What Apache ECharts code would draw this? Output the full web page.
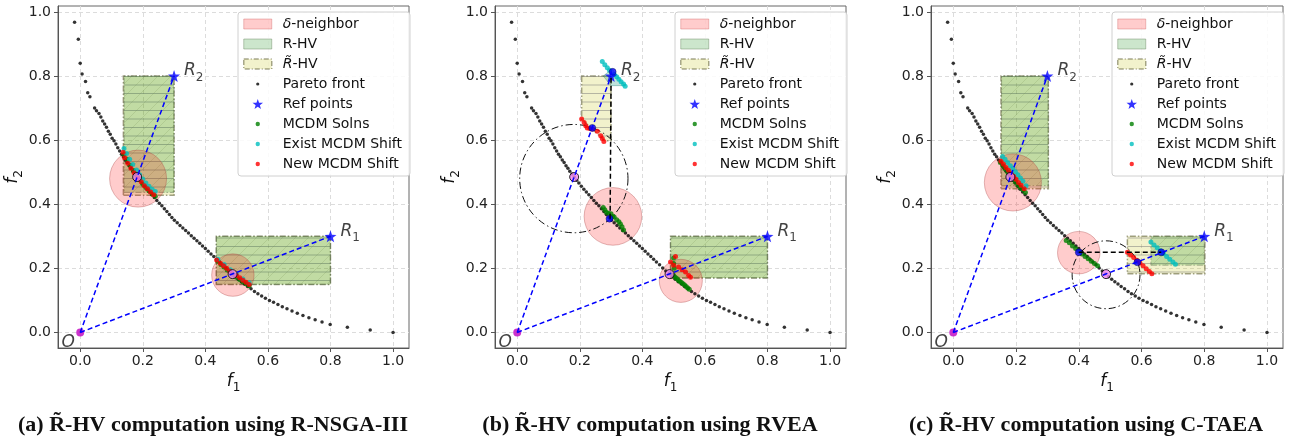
<!DOCTYPE html>
<html>
<head>
<meta charset="utf-8">
<script src="https://cdn.jsdelivr.net/npm/echarts@6/dist/echarts.min.js"></script>
<style>
  html, body { margin: 0; padding: 0; background: #fff; }
  #chart { width: 1294px; height: 440px; }
</style>
</head>
<body>
<div id="chart"></div>
<script>
// ---- data ----
const xTicks = [0, 0.2, 0.4, 0.6, 0.8, 1.0];
const yTicks = [0, 0.2, 0.4, 0.6, 0.8, 1.0];
const panelTitles = [
  '(a) R\u0303-HV computation using R-NSGA-III',
  '(b) R\u0303-HV computation using RVEA',
  '(c) R\u0303-HV computation using C-TAEA'
];

const paretoFront = [
  [-0.018, 0.968], [-0.006, 0.915], [0.0, 0.840], [0.006, 0.806], [0.017, 0.783], [0.024, 0.748],
  [0.031, 0.735], [0.046, 0.700], [0.052, 0.692], [0.060, 0.683], [0.066, 0.672], [0.072, 0.660],
  [0.078, 0.650], [0.084, 0.640], [0.090, 0.628], [0.096, 0.618], [0.102, 0.606], [0.108, 0.598],
  [0.114, 0.588], [0.120, 0.576], [0.126, 0.566], [0.132, 0.556], [0.138, 0.548], [0.144, 0.538],
  [0.150, 0.530], [0.156, 0.520], [0.162, 0.512], [0.168, 0.503], [0.175, 0.494], [0.182, 0.485],
  [0.190, 0.475], [0.197, 0.466], [0.205, 0.456], [0.213, 0.447], [0.221, 0.438], [0.229, 0.430],
  [0.237, 0.421], [0.245, 0.412], [0.253, 0.403], [0.261, 0.395], [0.269, 0.386], [0.277, 0.377],
  [0.285, 0.368], [0.293, 0.359], [0.301, 0.350], [0.310, 0.342], [0.319, 0.334], [0.328, 0.326],
  [0.337, 0.318], [0.346, 0.310], [0.355, 0.302], [0.364, 0.294], [0.373, 0.286], [0.382, 0.278],
  [0.391, 0.270], [0.400, 0.262], [0.409, 0.253], [0.418, 0.245], [0.427, 0.237], [0.436, 0.228],
  [0.445, 0.220], [0.455, 0.211], [0.465, 0.201], [0.475, 0.192], [0.485, 0.182], [0.495, 0.174],
  [0.505, 0.166], [0.515, 0.158], [0.525, 0.151], [0.535, 0.143], [0.546, 0.136], [0.557, 0.128],
  [0.568, 0.121], [0.580, 0.114], [0.592, 0.107], [0.605, 0.100], [0.618, 0.094], [0.632, 0.087],
  [0.646, 0.080], [0.661, 0.074], [0.677, 0.067], [0.694, 0.060], [0.712, 0.053], [0.731, 0.046],
  [0.751, 0.040], [0.773, 0.033], [0.799, 0.025], [0.854, 0.016], [0.927, 0.008], [1.000, 0.000]
];

const origin = [0, 0];
const refPoints = [[0.8, 0.3], [0.3, 0.8]];
const refIndex = ['1', '2'];
const projections = [[0.182, 0.485], [0.487, 0.182]];

// (a) R-NSGA-III
const deltaA = [[0.185, 0.48, 0.09], [0.488, 0.179, 0.067]];
const rhvA = [
  [[0.14, 0.437], [0.3, 0.437], [0.3, 0.8], [0.14, 0.8]],
  [[0.435, 0.15], [0.8, 0.15], [0.8, 0.3], [0.435, 0.3]]
];
const rhvTildeA = [
  [[0.138, 0.428], [0.3, 0.428], [0.3, 0.8], [0.138, 0.8]],
  [[0.435, 0.15], [0.8, 0.15], [0.8, 0.3], [0.435, 0.3]]
];
const mcdmA = [
  [0.14, 0.555], [0.15, 0.54], [0.16, 0.522], [0.17, 0.505], [0.18, 0.49], [0.19, 0.477],
  [0.2, 0.462], [0.21, 0.452], [0.22, 0.442], [0.23, 0.432], [0.24, 0.425],
  [0.44, 0.222], [0.45, 0.212], [0.46, 0.204], [0.47, 0.195], [0.48, 0.187], [0.49, 0.18],
  [0.5, 0.172], [0.51, 0.165], [0.52, 0.158], [0.53, 0.152], [0.54, 0.146]
];
const existA = [
  [0.14, 0.574], [0.148, 0.558], [0.158, 0.54], [0.168, 0.524], [0.18, 0.507], [0.19, 0.492],
  [0.2, 0.479], [0.21, 0.466], [0.22, 0.456], [0.23, 0.447], [0.24, 0.44],
  [0.44, 0.228], [0.46, 0.212], [0.48, 0.196], [0.5, 0.181], [0.52, 0.167], [0.54, 0.155]
];
const newA = [
  [0.137, 0.562], [0.142, 0.545], [0.152, 0.528], [0.162, 0.512], [0.172, 0.498], [0.185, 0.482],
  [0.195, 0.47], [0.205, 0.458], [0.215, 0.448], [0.225, 0.438], [0.235, 0.43],
  [0.436, 0.226], [0.448, 0.216], [0.458, 0.208], [0.468, 0.2], [0.478, 0.192], [0.5, 0.178],
  [0.51, 0.171], [0.52, 0.163], [0.53, 0.157], [0.54, 0.15]
];

// (b) RVEA
const deltaB = [[0.306, 0.362, 0.091], [0.523, 0.161, 0.068]];
const searchB = [[0.181, 0.48, 0.171]];
const rhvB = [
  [[0.49, 0.17], [0.8, 0.17], [0.8, 0.3], [0.49, 0.3]]
];
const rhvTildeB = [
  [[0.206, 0.8], [0.206, 0.665], [0.28, 0.598], [0.3, 0.598], [0.3, 0.8]],
  [[0.49, 0.17], [0.8, 0.17], [0.8, 0.3], [0.49, 0.3]]
];
const shiftBoxB = [
  [[0.275, 0.8], [0.303, 0.822], [0.345, 0.77], [0.3, 0.77]]
];
const mcdmB = [
  [0.275, 0.39], [0.28, 0.383], [0.285, 0.375], [0.292, 0.372], [0.3, 0.37], [0.305, 0.362],
  [0.31, 0.36], [0.318, 0.352], [0.325, 0.345], [0.33, 0.338], [0.335, 0.33], [0.34, 0.32],
  [0.5, 0.232], [0.5, 0.215], [0.502, 0.2], [0.49, 0.185], [0.5, 0.178], [0.505, 0.172],
  [0.51, 0.168], [0.515, 0.163], [0.52, 0.16], [0.525, 0.156], [0.53, 0.152], [0.535, 0.148],
  [0.54, 0.143], [0.545, 0.139], [0.55, 0.135]
];
const existB = [
  [0.272, 0.845], [0.28, 0.835], [0.288, 0.826], [0.295, 0.818], [0.31, 0.805], [0.318, 0.798],
  [0.325, 0.79], [0.332, 0.782], [0.34, 0.775], [0.345, 0.768]
];
const newB = [
  [0.206, 0.666], [0.214, 0.655], [0.219, 0.645], [0.224, 0.638], [0.232, 0.636], [0.24, 0.635],
  [0.256, 0.628], [0.267, 0.614], [0.272, 0.605], [0.277, 0.596],
  [0.506, 0.237], [0.49, 0.22], [0.5, 0.21], [0.516, 0.204], [0.527, 0.196], [0.538, 0.189],
  [0.548, 0.178], [0.554, 0.172]
];
const shiftedB = [[0.295, 0.355], [0.24, 0.638], [0.305, 0.813]];
const shiftLineB = [[0.297, 0.355], [0.3, 0.8]];

// (c) C-TAEA
const deltaC = [[0.19, 0.468, 0.09], [0.4, 0.249, 0.067]];
const searchC = [[0.487, 0.18, 0.107]];
const rhvC = [
  [[0.154, 0.458], [0.303, 0.458], [0.303, 0.8], [0.154, 0.8]],
  [[0.63, 0.21], [0.8, 0.21], [0.8, 0.3], [0.63, 0.3]]
];
const rhvTildeC = [
  [[0.152, 0.448], [0.303, 0.448], [0.303, 0.8], [0.152, 0.8]],
  [[0.555, 0.183], [0.802, 0.183], [0.802, 0.3], [0.555, 0.3]]
];
const mcdmC = [
  [0.15, 0.53], [0.158, 0.52], [0.166, 0.51], [0.174, 0.5], [0.182, 0.49], [0.19, 0.48],
  [0.198, 0.47], [0.206, 0.46], [0.214, 0.452], [0.222, 0.445], [0.23, 0.437],
  [0.36, 0.287], [0.37, 0.28], [0.38, 0.27], [0.39, 0.262], [0.4, 0.253], [0.41, 0.245],
  [0.42, 0.237], [0.43, 0.23], [0.44, 0.222], [0.45, 0.215], [0.46, 0.208]
];
const existC = [
  [0.157, 0.549], [0.165, 0.54], [0.173, 0.53], [0.182, 0.52], [0.19, 0.511], [0.198, 0.501],
  [0.206, 0.492], [0.214, 0.482], [0.222, 0.472], [0.232, 0.458],
  [0.63, 0.282], [0.64, 0.273], [0.65, 0.264], [0.66, 0.255], [0.67, 0.246], [0.68, 0.237],
  [0.69, 0.228], [0.7, 0.22], [0.708, 0.213]
];
const newC = [
  [0.152, 0.534], [0.16, 0.525], [0.168, 0.515], [0.176, 0.506], [0.184, 0.496], [0.192, 0.487],
  [0.2, 0.478], [0.208, 0.468], [0.216, 0.459], [0.226, 0.448],
  [0.555, 0.25], [0.565, 0.242], [0.575, 0.234], [0.585, 0.225], [0.595, 0.217], [0.605, 0.208],
  [0.615, 0.199], [0.625, 0.19], [0.633, 0.183]
];
const shiftedC = [[0.4, 0.25], [0.587, 0.219], [0.663, 0.25]];
const shiftLineC = [[0.4, 0.25], [0.663, 0.25]];

// ---- layout ----
const gridLeft = [58, 495, 931];
const gridWidth = [351, 351, 352];
const legendLeft = [238, 675, 1112];
const titleCenter = [208, 645, 1081];

const panels = [
  { delta: deltaA, search: [], rhv: rhvA, rhvTilde: rhvTildeA, shiftBox: [], mcdm: mcdmA, exist: existA, fresh: newA, shifted: [], shiftLine: [] },
  { delta: deltaB, search: searchB, rhv: rhvB, rhvTilde: rhvTildeB, shiftBox: shiftBoxB, mcdm: mcdmB, exist: existB, fresh: newB, shifted: shiftedB, shiftLine: shiftLineB },
  { delta: deltaC, search: searchC, rhv: rhvC, rhvTilde: rhvTildeC, shiftBox: [], mcdm: mcdmC, exist: existC, fresh: newC, shifted: shiftedC, shiftLine: shiftLineC }
];

const star = 'path://M0,-10L2.35,-3.24L9.51,-3.09L3.8,1.24L5.88,8.09L0,4.1L-5.88,8.09L-3.8,1.24L-9.51,-3.09L-2.35,-3.24Z';
const dot = r => 'path://M0,0M10,10M' + (5 - r) + ',5a' + r + ',' + r + ' 0 1,0 ' + (2 * r) + ',0a' + r + ',' + r + ' 0 1,0 ' + (-2 * r) + ',0Z';

const mathRich = {
  i: { fontStyle: 'italic', fontSize: 17, fontFamily: 'DejaVu Sans', color: '#111', verticalAlign: 'bottom', padding: [0, 0, 4, 0] },
  s: { fontSize: 12, fontFamily: 'DejaVu Sans', color: '#111', verticalAlign: 'bottom' }
};

// line clipping against a convex polygon (pixel space), used for hatch texture
function cross(u, v) { return u[0] * v[1] - u[1] * v[0]; }
function clipLine(pts, p, d) {
  const ts = [];
  for (let k = 0; k < pts.length; k++) {
    const a = pts[k], b = pts[(k + 1) % pts.length];
    const e = [b[0] - a[0], b[1] - a[1]];
    const den = cross(d, e);
    if (Math.abs(den) < 1e-9) continue;
    const w = [a[0] - p[0], a[1] - p[1]];
    const t = cross(w, e) / den, s = cross(w, d) / den;
    if (s >= -1e-9 && s <= 1 + 1e-9) ts.push(t);
  }
  if (ts.length < 2) return null;
  const t0 = Math.min(...ts), t1 = Math.max(...ts);
  return [p[0] + t0 * d[0], p[1] + t0 * d[1], p[0] + t1 * d[0], p[1] + t1 * d[1]];
}
function hatchLines(pts, hatch, step) {
  const xs = pts.map(q => q[0]), ys = pts.map(q => q[1]);
  const x0 = Math.min(...xs), x1 = Math.max(...xs), y0 = Math.min(...ys), y1 = Math.max(...ys);
  const segs = [];
  if (hatch === '-') {
    for (let y = Math.ceil(y0 / step) * step; y < y1; y += step) {
      const s = clipLine(pts, [x0 - 5, y], [1, 0]);
      if (s) segs.push(s);
    }
  } else if (hatch === '/') {
    for (let c = Math.ceil((x0 + y0) / step) * step; c < x1 + y1; c += step) {
      const s = clipLine(pts, [c, 0], [1, -1]);
      if (s) segs.push(s);
    }
  }
  return segs;
}

function regionRender(polys, st) {
  return function (params, api) {
    const pts = polys[params.dataIndex].map(q => api.coord(q));
    const children = [{
      type: 'polygon', shape: { points: pts },
      style: { fill: st.fill, stroke: st.stroke, lineWidth: st.lineWidth || 1.2, lineDash: st.dash }
    }];
    if (st.hatch) {
      hatchLines(pts, st.hatch, st.step).forEach(s => children.push({
        type: 'line', shape: { x1: s[0], y1: s[1], x2: s[2], y2: s[3] },
        style: { stroke: st.hatchColor, lineWidth: 1 }
      }));
    }
    return { type: 'group', children };
  };
}

function circleRender(st) {
  return function (params, api) {
    const c = api.coord([api.value(0), api.value(1)]);
    const s = api.size([api.value(2), api.value(2)]);
    return {
      type: 'circle', shape: { cx: c[0], cy: c[1], r: (s[0] + s[1]) / 2 },
      style: { fill: st.fill, stroke: st.stroke, lineWidth: 1, lineDash: st.dash }
    };
  };
}

function panelSeries(p, i) {
  const ax = { xAxisIndex: i, yAxisIndex: i };
  const list = [];
  list.push({ ...ax, name: 'R\u0303-HV', type: 'custom', data: p.rhvTilde.map(q => q[0]),
    itemStyle: { color: 'rgba(191,191,0,0.2)' },
    renderItem: regionRender(p.rhvTilde, { fill: 'rgba(191,191,0,0.2)', stroke: 'rgba(110,110,70,0.65)', lineWidth: 1.5, dash: [6, 2, 1.5, 2], hatch: '-', step: 8.5, hatchColor: 'rgba(120,120,120,0.5)' }) });
  list.push({ ...ax, name: 'R-HV', type: 'custom', data: p.rhv.map(q => q[0]),
    itemStyle: { color: 'rgba(0,128,0,0.2)' },
    renderItem: regionRender(p.rhv, { fill: 'rgba(0,128,0,0.2)', stroke: 'rgba(90,110,80,0.5)', lineWidth: 1, dash: [6, 2, 1.5, 2], hatch: '/', step: 13, hatchColor: 'rgba(110,140,80,0.2)' }) });
  if (p.shiftBox.length) {
    list.push({ ...ax, name: 'shift box', type: 'custom', data: p.shiftBox.map(q => q[0]),
      renderItem: regionRender(p.shiftBox, { fill: 'rgba(0,140,110,0.25)', stroke: 'rgba(0,120,100,0.3)', lineWidth: 1 }) });
  }
  list.push({ ...ax, name: '\u03b4-neighbor', type: 'custom', data: p.delta,
    itemStyle: { color: 'rgba(255,0,0,0.2)' },
    renderItem: circleRender({ fill: 'rgba(255,0,0,0.2)', stroke: 'rgba(170,60,60,0.35)' }) });
  if (p.search.length) {
    list.push({ ...ax, name: 'search', type: 'custom', data: p.search,
      renderItem: circleRender({ fill: 'none', stroke: '#111', dash: [7, 3, 1.5, 3] }) });
  }
  list.push({ ...ax, name: 'Pareto front', type: 'scatter', data: paretoFront, symbolSize: 3.5,
    itemStyle: { color: '#000' } });
  refPoints.forEach(r => list.push({ ...ax, name: 'ray', type: 'line', data: [origin, r], symbol: 'none',
    lineStyle: { color: '#0000ff', width: 1.5, type: [5, 3] } }));
  if (p.shiftLine.length) {
    list.push({ ...ax, name: 'shift', type: 'line', data: p.shiftLine, symbol: 'none',
      lineStyle: { color: '#000', width: 1.5, type: [5, 3] } });
  }
  list.push({ ...ax, name: 'MCDM Solns', type: 'scatter', data: p.mcdm, symbolSize: 5, itemStyle: { color: '#008000' } });
  list.push({ ...ax, name: 'Exist MCDM Shift', type: 'scatter', data: p.exist, symbolSize: 5, itemStyle: { color: '#00bfbf' } });
  list.push({ ...ax, name: 'New MCDM Shift', type: 'scatter', data: p.fresh, symbolSize: 5, itemStyle: { color: '#ff0000' } });
  list.push({ ...ax, name: 'projection', type: 'scatter', data: projections, symbolSize: 9,
    itemStyle: { color: '#ee82ee', borderColor: '#000', borderWidth: 1 } });
  list.push({ ...ax, name: 'origin', type: 'scatter', data: [origin], symbolSize: 8,
    itemStyle: { color: '#bf00bf' },
    label: { show: true, formatter: '{i|O}', position: [-8, 14], align: 'center', verticalAlign: 'middle', rich: { i: { fontStyle: 'italic', fontSize: 17, fontFamily: 'DejaVu Sans', color: '#111' } } } });
  if (p.shifted.length) {
    list.push({ ...ax, name: 'shifted', type: 'scatter', data: p.shifted, symbolSize: 7,
      itemStyle: { color: '#0000ff', borderColor: '#000033', borderWidth: 0.5 } });
  }
  list.push({ ...ax, name: 'Ref points', type: 'scatter', data: refPoints, symbol: star, symbolSize: 12,
    itemStyle: { color: '#0000ff' },
    label: { show: true, position: 'right', distance: 4, offset: [0, -3],
      formatter: prm => '{i|R}{s|' + refIndex[prm.dataIndex] + '}', rich: mathRich } });
  return list;
}

const legendItems = [
  { name: '\u03b4-neighbor', icon: 'rect', itemStyle: { color: 'rgba(255,0,0,0.2)', borderColor: 'rgba(200,80,80,0.35)', borderWidth: 1 } },
  { name: 'R-HV', icon: 'rect', itemStyle: { color: 'rgba(0,128,0,0.2)', borderColor: 'rgba(90,120,80,0.4)', borderWidth: 1 } },
  { name: 'R\u0303-HV', icon: 'rect', itemStyle: { color: 'rgba(191,191,0,0.2)', borderColor: 'rgba(110,110,70,0.6)', borderWidth: 1.5, borderType: [5, 2, 1, 2] } },
  { name: 'Pareto front', icon: dot(1.6), itemStyle: { color: '#000' } },
  { name: 'Ref points', icon: star, itemStyle: { color: '#0000ff' } },
  { name: 'MCDM Solns', icon: dot(2.2), itemStyle: { color: '#008000' } },
  { name: 'Exist MCDM Shift', icon: dot(2.2), itemStyle: { color: '#00bfbf' } },
  { name: 'New MCDM Shift', icon: dot(2.2), itemStyle: { color: '#ff0000' } }
];

function legendText(name) {
  if (name === '\u03b4-neighbor') return '{i|\u03b4}-neighbor';
  if (name === 'R\u0303-HV') return '{i|R\u0303}-HV';
  return name;
}

const chart = echarts.init(document.getElementById('chart'), null, { renderer: 'canvas' });

const option = {
  animation: false,
  backgroundColor: '#fff',
  title: panelTitles.map((t, i) => ({
    text: t, left: titleCenter[i], top: 409, textAlign: 'center',
    textStyle: { fontFamily: 'Liberation Serif', fontWeight: 'bold', fontSize: 22, color: '#111' }
  })),
  legend: [0, 1, 2].map(i => ({
    left: legendLeft[i], top: 12, orient: 'vertical', selectedMode: false,
    itemWidth: 28, itemHeight: 10, itemGap: 6, padding: [5, 8, 5, 5],
    backgroundColor: 'rgba(255,255,255,0.85)', borderColor: '#d0d0d0', borderWidth: 1, borderRadius: 3,
    textStyle: { fontFamily: 'DejaVu Sans', fontSize: 14, color: '#111', lineHeight: 14, padding: [0, 0, 0, 6],
      rich: { i: { fontStyle: 'italic', fontFamily: 'DejaVu Sans', fontSize: 14, color: '#111' } } },
    formatter: legendText,
    data: legendItems
  })),
  grid: [0, 1, 2].map(i => ({
    left: gridLeft[i], top: 6, width: gridWidth[i], height: 342,
    show: true, borderColor: '#666', borderWidth: 1, backgroundColor: 'transparent'
  })),
  xAxis: [0, 1, 2].map(i => ({
    gridIndex: i, type: 'value', min: -0.071, max: 1.051,
    name: '{i|f}{s|1}', nameLocation: 'middle', nameGap: 24, nameTextStyle: { rich: mathRich },
    axisLine: { show: true, onZero: false, lineStyle: { color: '#555' } },
    axisTick: { show: true, customValues: xTicks, length: 4, lineStyle: { color: '#555' } },
    axisLabel: { customValues: xTicks, formatter: v => v.toFixed(1), fontFamily: 'DejaVu Sans', fontSize: 14, color: '#222', margin: 6 },
    splitLine: { show: true, lineStyle: { color: '#dcdcdc', type: [4, 3] } }
  })),
  yAxis: [0, 1, 2].map(i => ({
    gridIndex: i, type: 'value', min: -0.0485, max: 1.0185,
    name: '{i|f}{s|2}', nameLocation: 'middle', nameGap: 29, nameTextStyle: { rich: mathRich },
    axisLine: { show: true, onZero: false, lineStyle: { color: '#555' } },
    axisTick: { show: true, customValues: yTicks, length: 4, lineStyle: { color: '#555' } },
    axisLabel: { customValues: yTicks, formatter: v => v.toFixed(1), fontFamily: 'DejaVu Sans', fontSize: 14, color: '#222', margin: 7 },
    splitLine: { show: true, lineStyle: { color: '#dcdcdc', type: [4, 3] } }
  })),
  series: panels.flatMap((p, i) => panelSeries(p, i))
};

chart.setOption(option);
</script>
</body>
</html>
